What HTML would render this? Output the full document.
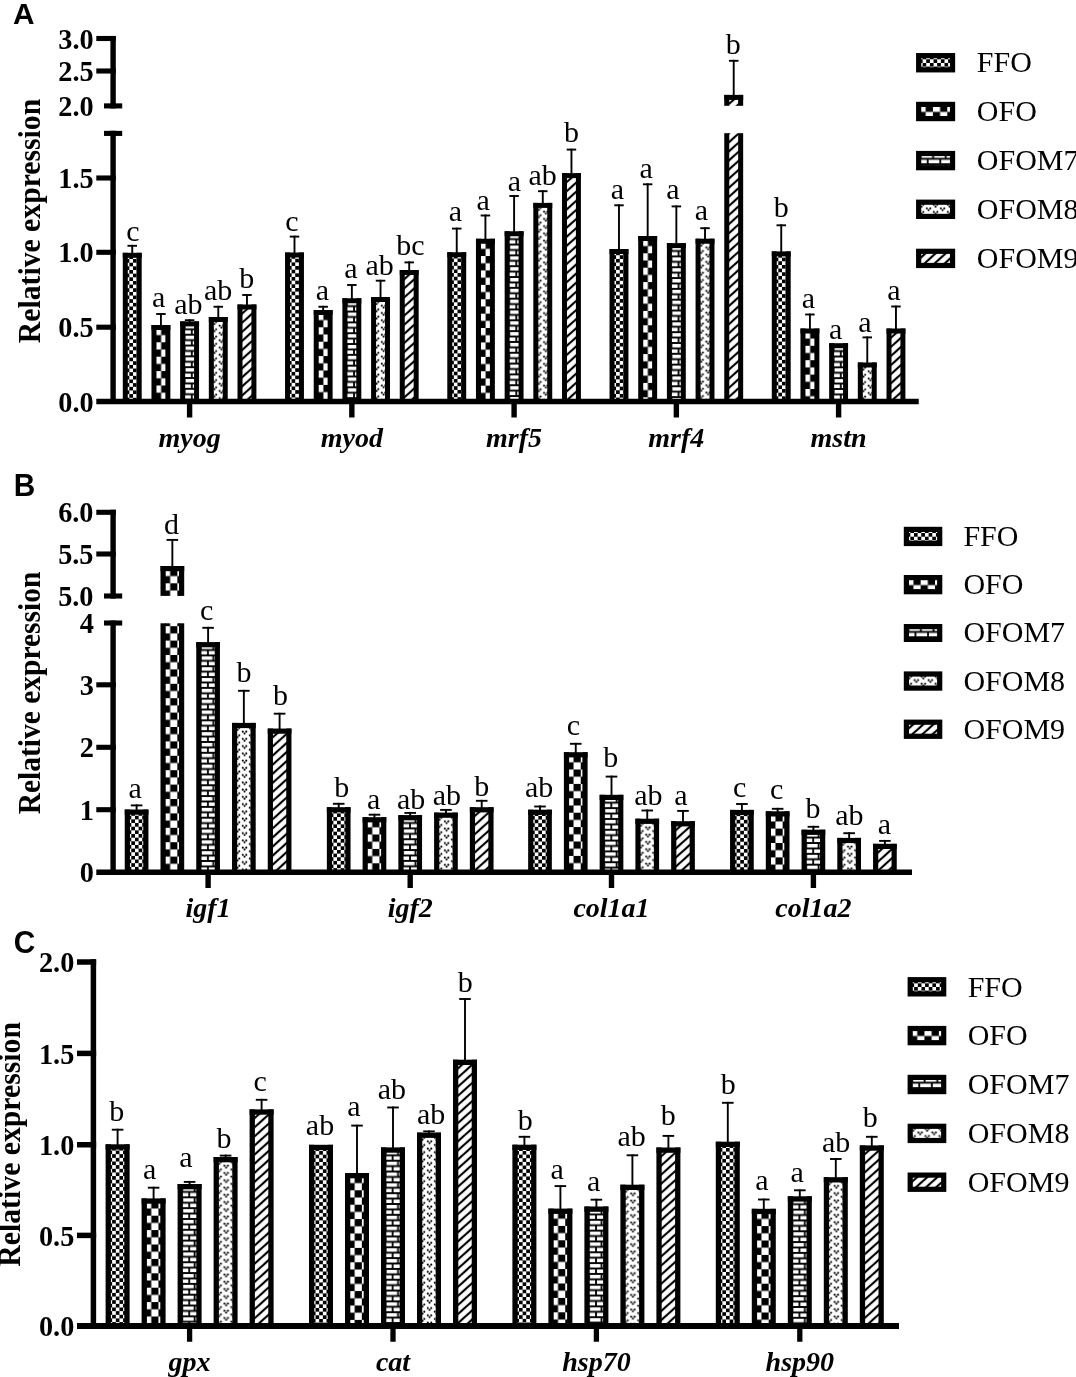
<!DOCTYPE html>
<html lang="en"><head><meta charset="utf-8"><title>Relative expression</title>
<style>html,body{margin:0;padding:0;background:#fff}svg{display:block;will-change:transform}</style></head><body>
<svg width="1076" height="1377" viewBox="0 0 1076 1377">
<rect width="1076" height="1377" fill="#fff"/>
<defs>
<pattern id="pFFO" patternUnits="userSpaceOnUse" x="2.9" y="2.6" width="7.3" height="7.3"><rect width="7.3" height="7.3" fill="#000"/><rect x="0" y="0" width="3.65" height="3.65" fill="#fff"/><rect x="3.65" y="3.65" width="3.65" height="3.65" fill="#fff"/></pattern>
<pattern id="pOFO" patternUnits="userSpaceOnUse" x="2.45" y="2.9" width="14.4" height="14.4"><rect width="14.4" height="14.4" fill="#000"/><rect x="0" y="0" width="7.2" height="7.2" fill="#fff"/><rect x="7.2" y="7.2" width="7.2" height="7.2" fill="#fff"/></pattern>
<pattern id="pM7" patternUnits="userSpaceOnUse" x="0" y="2.5" width="12.6" height="10.82"><rect width="12.6" height="10.82" fill="#fff"/><rect x="0" y="-0.95" width="12.6" height="1.9"/><rect x="0" y="9.87" width="12.6" height="1.9"/><rect x="0" y="4.46" width="12.6" height="1.9"/><rect x="-9.05" y="0" width="1.8" height="5.41"/><rect x="3.55" y="0" width="1.8" height="5.41"/><rect x="16.15" y="0" width="1.8" height="5.41"/><rect x="-1.85" y="5.41" width="1.8" height="5.41"/><rect x="10.75" y="5.41" width="1.8" height="5.41"/><rect x="23.35" y="5.41" width="1.8" height="5.41"/></pattern>
<pattern id="pM8" patternUnits="userSpaceOnUse" x="0" y="0" width="14" height="7.25"><rect width="14" height="7.25" fill="#fff"/><circle cx="10.8" cy="1.48" r="1.05" fill="#000"/><circle cx="10.8" cy="8.73" r="1.05" fill="#000"/><circle cx="0.28" cy="1.48" r="1.05" fill="#000"/><circle cx="0.28" cy="8.73" r="1.05" fill="#000"/><circle cx="14.28" cy="1.48" r="1.05" fill="#000"/><circle cx="14.28" cy="8.73" r="1.05" fill="#000"/><circle cx="-1.46" cy="3.35" r="1.05" fill="#000"/><circle cx="12.54" cy="3.35" r="1.05" fill="#000"/><circle cx="3.8" cy="5.1" r="1.05" fill="#000"/><circle cx="7.28" cy="5.1" r="1.05" fill="#000"/><circle cx="5.54" cy="-0.28" r="1.05" fill="#000"/><circle cx="5.54" cy="6.97" r="1.05" fill="#000"/></pattern>
<pattern id="pM9" patternUnits="userSpaceOnUse" width="60" height="6.76" patternTransform="translate(2.6 1.8) rotate(-42)"><rect width="60" height="6.76" fill="#fff"/><rect x="0" y="-1.07" width="60" height="2.15" fill="#000"/><rect x="0" y="5.69" width="60" height="2.15" fill="#000"/></pattern>
</defs>
<g>
<line x1="132.24" y1="244.85" x2="132.24" y2="253.8" stroke="#000" stroke-width="1.9"/>
<line x1="127.49" y1="245.8" x2="136.99" y2="245.8" stroke="#000" stroke-width="1.9"/>
<g transform="translate(122.79 252.8)">
<rect x="4.3" y="4.3" width="10.3" height="144.4" fill="url(#pFFO)"/>
<rect x="0" y="0" width="5" height="148.7"/>
<rect x="13.9" y="0" width="5" height="148.7"/>
<rect x="0" y="0" width="18.9" height="5"/>
</g>
<text x="132.8" y="241" font-family='"Liberation Serif", "DejaVu Serif", serif' font-size="30" font-weight="normal" font-style="normal" text-anchor="middle" fill="#000">c</text>
<line x1="160.92" y1="313.05" x2="160.92" y2="326" stroke="#000" stroke-width="1.9"/>
<line x1="156.17" y1="314" x2="165.67" y2="314" stroke="#000" stroke-width="1.9"/>
<g transform="translate(151.47 325)">
<rect x="4.3" y="4.3" width="10.3" height="72.2" fill="url(#pOFO)"/>
<rect x="0" y="0" width="5" height="76.5"/>
<rect x="13.9" y="0" width="5" height="76.5"/>
<rect x="0" y="0" width="18.9" height="5"/>
</g>
<text x="158.6" y="307.2" font-family='"Liberation Serif", "DejaVu Serif", serif' font-size="30" font-weight="normal" font-style="normal" text-anchor="middle" fill="#000">a</text>
<line x1="189.6" y1="319.25" x2="189.6" y2="322.4" stroke="#000" stroke-width="1.9"/>
<line x1="184.85" y1="320.2" x2="194.35" y2="320.2" stroke="#000" stroke-width="1.9"/>
<g transform="translate(180.15 321.4)">
<rect x="4.3" y="4.3" width="10.3" height="75.8" fill="url(#pM7)"/>
<rect x="0" y="0" width="5" height="80.1"/>
<rect x="13.9" y="0" width="5" height="80.1"/>
<rect x="0" y="0" width="18.9" height="5"/>
</g>
<text x="188.42" y="313.8" font-family='"Liberation Serif", "DejaVu Serif", serif' font-size="30" font-weight="normal" font-style="normal" text-anchor="middle" fill="#000">ab</text>
<line x1="218.28" y1="305.8" x2="218.28" y2="318" stroke="#000" stroke-width="1.9"/>
<line x1="213.53" y1="306.75" x2="223.03" y2="306.75" stroke="#000" stroke-width="1.9"/>
<g transform="translate(208.83 317)">
<rect x="4.3" y="4.3" width="10.3" height="80.2" fill="url(#pM8)"/>
<rect x="0" y="0" width="5" height="84.5"/>
<rect x="13.9" y="0" width="5" height="84.5"/>
<rect x="0" y="0" width="18.9" height="5"/>
</g>
<text x="218.12" y="300.3" font-family='"Liberation Serif", "DejaVu Serif", serif' font-size="30" font-weight="normal" font-style="normal" text-anchor="middle" fill="#000">ab</text>
<line x1="246.96" y1="294.05" x2="246.96" y2="305.5" stroke="#000" stroke-width="1.9"/>
<line x1="242.21" y1="295" x2="251.71" y2="295" stroke="#000" stroke-width="1.9"/>
<g transform="translate(237.51 304.5)">
<rect x="4.3" y="4.3" width="10.3" height="92.7" fill="url(#pM9)"/>
<rect x="0" y="0" width="5" height="97"/>
<rect x="13.9" y="0" width="5" height="97"/>
<rect x="0" y="0" width="18.9" height="5"/>
</g>
<text x="246.63" y="287.7" font-family='"Liberation Serif", "DejaVu Serif", serif' font-size="30" font-weight="normal" font-style="normal" text-anchor="middle" fill="#000">b</text>
<line x1="294.49" y1="235.65" x2="294.49" y2="253.5" stroke="#000" stroke-width="1.9"/>
<line x1="289.74" y1="236.6" x2="299.24" y2="236.6" stroke="#000" stroke-width="1.9"/>
<g transform="translate(285.04 252.5)">
<rect x="4.3" y="4.3" width="10.3" height="144.7" fill="url(#pFFO)"/>
<rect x="0" y="0" width="5" height="149"/>
<rect x="13.9" y="0" width="5" height="149"/>
<rect x="0" y="0" width="18.9" height="5"/>
</g>
<text x="292" y="230.9" font-family='"Liberation Serif", "DejaVu Serif", serif' font-size="30" font-weight="normal" font-style="normal" text-anchor="middle" fill="#000">c</text>
<line x1="323.17" y1="305.8" x2="323.17" y2="311" stroke="#000" stroke-width="1.9"/>
<line x1="318.42" y1="306.75" x2="327.92" y2="306.75" stroke="#000" stroke-width="1.9"/>
<g transform="translate(313.72 310)">
<rect x="4.3" y="4.3" width="10.3" height="87.2" fill="url(#pOFO)"/>
<rect x="0" y="0" width="5" height="91.5"/>
<rect x="13.9" y="0" width="5" height="91.5"/>
<rect x="0" y="0" width="18.9" height="5"/>
</g>
<text x="322.46" y="299.9" font-family='"Liberation Serif", "DejaVu Serif", serif' font-size="30" font-weight="normal" font-style="normal" text-anchor="middle" fill="#000">a</text>
<line x1="351.85" y1="284.05" x2="351.85" y2="299.25" stroke="#000" stroke-width="1.9"/>
<line x1="347.1" y1="285" x2="356.6" y2="285" stroke="#000" stroke-width="1.9"/>
<g transform="translate(342.4 298.25)">
<rect x="4.3" y="4.3" width="10.3" height="98.95" fill="url(#pM7)"/>
<rect x="0" y="0" width="5" height="103.25"/>
<rect x="13.9" y="0" width="5" height="103.25"/>
<rect x="0" y="0" width="18.9" height="5"/>
</g>
<text x="350.8" y="277.6" font-family='"Liberation Serif", "DejaVu Serif", serif' font-size="30" font-weight="normal" font-style="normal" text-anchor="middle" fill="#000">a</text>
<line x1="380.53" y1="279.75" x2="380.53" y2="298" stroke="#000" stroke-width="1.9"/>
<line x1="375.78" y1="280.7" x2="385.28" y2="280.7" stroke="#000" stroke-width="1.9"/>
<g transform="translate(371.08 297)">
<rect x="4.3" y="4.3" width="10.3" height="100.2" fill="url(#pM8)"/>
<rect x="0" y="0" width="5" height="104.5"/>
<rect x="13.9" y="0" width="5" height="104.5"/>
<rect x="0" y="0" width="18.9" height="5"/>
</g>
<text x="379.72" y="274.8" font-family='"Liberation Serif", "DejaVu Serif", serif' font-size="30" font-weight="normal" font-style="normal" text-anchor="middle" fill="#000">ab</text>
<line x1="409.21" y1="261.45" x2="409.21" y2="271" stroke="#000" stroke-width="1.9"/>
<line x1="404.46" y1="262.4" x2="413.96" y2="262.4" stroke="#000" stroke-width="1.9"/>
<g transform="translate(399.76 270)">
<rect x="4.3" y="4.3" width="10.3" height="127.2" fill="url(#pM9)"/>
<rect x="0" y="0" width="5" height="131.5"/>
<rect x="13.9" y="0" width="5" height="131.5"/>
<rect x="0" y="0" width="18.9" height="5"/>
</g>
<text x="410.33" y="255.3" font-family='"Liberation Serif", "DejaVu Serif", serif' font-size="30" font-weight="normal" font-style="normal" text-anchor="middle" fill="#000">bc</text>
<line x1="456.74" y1="227.65" x2="456.74" y2="253.25" stroke="#000" stroke-width="1.9"/>
<line x1="451.99" y1="228.6" x2="461.49" y2="228.6" stroke="#000" stroke-width="1.9"/>
<g transform="translate(447.29 252.25)">
<rect x="4.3" y="4.3" width="10.3" height="144.95" fill="url(#pFFO)"/>
<rect x="0" y="0" width="5" height="149.25"/>
<rect x="13.9" y="0" width="5" height="149.25"/>
<rect x="0" y="0" width="18.9" height="5"/>
</g>
<text x="455.4" y="221" font-family='"Liberation Serif", "DejaVu Serif", serif' font-size="30" font-weight="normal" font-style="normal" text-anchor="middle" fill="#000">a</text>
<line x1="485.42" y1="214.55" x2="485.42" y2="239.75" stroke="#000" stroke-width="1.9"/>
<line x1="480.67" y1="215.5" x2="490.17" y2="215.5" stroke="#000" stroke-width="1.9"/>
<g transform="translate(475.97 238.75)">
<rect x="4.3" y="4.3" width="10.3" height="158.45" fill="url(#pOFO)"/>
<rect x="0" y="0" width="5" height="162.75"/>
<rect x="13.9" y="0" width="5" height="162.75"/>
<rect x="0" y="0" width="18.9" height="5"/>
</g>
<text x="483.1" y="210.4" font-family='"Liberation Serif", "DejaVu Serif", serif' font-size="30" font-weight="normal" font-style="normal" text-anchor="middle" fill="#000">a</text>
<line x1="514.1" y1="195.05" x2="514.1" y2="232.25" stroke="#000" stroke-width="1.9"/>
<line x1="509.35" y1="196" x2="518.85" y2="196" stroke="#000" stroke-width="1.9"/>
<g transform="translate(504.65 231.25)">
<rect x="4.3" y="4.3" width="10.3" height="165.95" fill="url(#pM7)"/>
<rect x="0" y="0" width="5" height="170.25"/>
<rect x="13.9" y="0" width="5" height="170.25"/>
<rect x="0" y="0" width="18.9" height="5"/>
</g>
<text x="514.4" y="191" font-family='"Liberation Serif", "DejaVu Serif", serif' font-size="30" font-weight="normal" font-style="normal" text-anchor="middle" fill="#000">a</text>
<line x1="542.78" y1="190.25" x2="542.78" y2="203.9" stroke="#000" stroke-width="1.9"/>
<line x1="538.03" y1="191.2" x2="547.53" y2="191.2" stroke="#000" stroke-width="1.9"/>
<g transform="translate(533.33 202.9)">
<rect x="4.3" y="4.3" width="10.3" height="194.3" fill="url(#pM8)"/>
<rect x="0" y="0" width="5" height="198.6"/>
<rect x="13.9" y="0" width="5" height="198.6"/>
<rect x="0" y="0" width="18.9" height="5"/>
</g>
<text x="542.72" y="185" font-family='"Liberation Serif", "DejaVu Serif", serif' font-size="30" font-weight="normal" font-style="normal" text-anchor="middle" fill="#000">ab</text>
<line x1="571.46" y1="148.65" x2="571.46" y2="174.1" stroke="#000" stroke-width="1.9"/>
<line x1="566.71" y1="149.6" x2="576.21" y2="149.6" stroke="#000" stroke-width="1.9"/>
<g transform="translate(562.01 173.1)">
<rect x="4.3" y="4.3" width="10.3" height="224.1" fill="url(#pM9)"/>
<rect x="0" y="0" width="5" height="228.4"/>
<rect x="13.9" y="0" width="5" height="228.4"/>
<rect x="0" y="0" width="18.9" height="5"/>
</g>
<text x="571.53" y="141.8" font-family='"Liberation Serif", "DejaVu Serif", serif' font-size="30" font-weight="normal" font-style="normal" text-anchor="middle" fill="#000">b</text>
<line x1="618.99" y1="204.35" x2="618.99" y2="250" stroke="#000" stroke-width="1.9"/>
<line x1="614.24" y1="205.3" x2="623.74" y2="205.3" stroke="#000" stroke-width="1.9"/>
<g transform="translate(609.54 249)">
<rect x="4.3" y="4.3" width="10.3" height="148.2" fill="url(#pFFO)"/>
<rect x="0" y="0" width="5" height="152.5"/>
<rect x="13.9" y="0" width="5" height="152.5"/>
<rect x="0" y="0" width="18.9" height="5"/>
</g>
<text x="617.3" y="198.75" font-family='"Liberation Serif", "DejaVu Serif", serif' font-size="30" font-weight="normal" font-style="normal" text-anchor="middle" fill="#000">a</text>
<line x1="647.67" y1="183.35" x2="647.67" y2="237" stroke="#000" stroke-width="1.9"/>
<line x1="642.92" y1="184.3" x2="652.42" y2="184.3" stroke="#000" stroke-width="1.9"/>
<g transform="translate(638.22 236)">
<rect x="4.3" y="4.3" width="10.3" height="161.2" fill="url(#pOFO)"/>
<rect x="0" y="0" width="5" height="165.5"/>
<rect x="13.9" y="0" width="5" height="165.5"/>
<rect x="0" y="0" width="18.9" height="5"/>
</g>
<text x="646.2" y="177.8" font-family='"Liberation Serif", "DejaVu Serif", serif' font-size="30" font-weight="normal" font-style="normal" text-anchor="middle" fill="#000">a</text>
<line x1="676.35" y1="205.45" x2="676.35" y2="244.1" stroke="#000" stroke-width="1.9"/>
<line x1="671.6" y1="206.4" x2="681.1" y2="206.4" stroke="#000" stroke-width="1.9"/>
<g transform="translate(666.9 243.1)">
<rect x="4.3" y="4.3" width="10.3" height="154.1" fill="url(#pM7)"/>
<rect x="0" y="0" width="5" height="158.4"/>
<rect x="13.9" y="0" width="5" height="158.4"/>
<rect x="0" y="0" width="18.9" height="5"/>
</g>
<text x="672.8" y="199.4" font-family='"Liberation Serif", "DejaVu Serif", serif' font-size="30" font-weight="normal" font-style="normal" text-anchor="middle" fill="#000">a</text>
<line x1="705.03" y1="227.25" x2="705.03" y2="239.7" stroke="#000" stroke-width="1.9"/>
<line x1="700.28" y1="228.2" x2="709.78" y2="228.2" stroke="#000" stroke-width="1.9"/>
<g transform="translate(695.58 238.7)">
<rect x="4.3" y="4.3" width="10.3" height="158.5" fill="url(#pM8)"/>
<rect x="0" y="0" width="5" height="162.8"/>
<rect x="13.9" y="0" width="5" height="162.8"/>
<rect x="0" y="0" width="18.9" height="5"/>
</g>
<text x="701.4" y="220.4" font-family='"Liberation Serif", "DejaVu Serif", serif' font-size="30" font-weight="normal" font-style="normal" text-anchor="middle" fill="#000">a</text>
<line x1="733.71" y1="59.85" x2="733.71" y2="95.9" stroke="#000" stroke-width="1.9"/>
<line x1="728.96" y1="60.8" x2="738.46" y2="60.8" stroke="#000" stroke-width="1.9"/>
<g transform="translate(724.26 133.2)">
<rect x="4.3" y="0" width="10.3" height="268.3" fill="url(#pM9)"/>
<rect x="0" y="0" width="5" height="268.3"/>
<rect x="13.9" y="0" width="5" height="268.3"/>
</g>
<g transform="translate(724.26 94.9)">
<rect x="4.3" y="4.3" width="10.3" height="6.6" fill="url(#pM9)"/>
<rect x="0" y="0" width="5" height="10.9"/>
<rect x="13.9" y="0" width="5" height="10.9"/>
<rect x="0" y="0" width="18.9" height="5"/>
</g>
<text x="733.33" y="53.8" font-family='"Liberation Serif", "DejaVu Serif", serif' font-size="30" font-weight="normal" font-style="normal" text-anchor="middle" fill="#000">b</text>
<line x1="781.24" y1="224.35" x2="781.24" y2="252.4" stroke="#000" stroke-width="1.9"/>
<line x1="776.49" y1="225.3" x2="785.99" y2="225.3" stroke="#000" stroke-width="1.9"/>
<g transform="translate(771.79 251.4)">
<rect x="4.3" y="4.3" width="10.3" height="145.8" fill="url(#pFFO)"/>
<rect x="0" y="0" width="5" height="150.1"/>
<rect x="13.9" y="0" width="5" height="150.1"/>
<rect x="0" y="0" width="18.9" height="5"/>
</g>
<text x="781.23" y="217" font-family='"Liberation Serif", "DejaVu Serif", serif' font-size="30" font-weight="normal" font-style="normal" text-anchor="middle" fill="#000">b</text>
<line x1="809.92" y1="313.55" x2="809.92" y2="329.5" stroke="#000" stroke-width="1.9"/>
<line x1="805.17" y1="314.5" x2="814.67" y2="314.5" stroke="#000" stroke-width="1.9"/>
<g transform="translate(800.47 328.5)">
<rect x="4.3" y="4.3" width="10.3" height="68.7" fill="url(#pOFO)"/>
<rect x="0" y="0" width="5" height="73"/>
<rect x="13.9" y="0" width="5" height="73"/>
<rect x="0" y="0" width="18.9" height="5"/>
</g>
<text x="808.4" y="308" font-family='"Liberation Serif", "DejaVu Serif", serif' font-size="30" font-weight="normal" font-style="normal" text-anchor="middle" fill="#000">a</text>
<g transform="translate(829.15 343.2)">
<rect x="4.3" y="4.3" width="10.3" height="54" fill="url(#pM7)"/>
<rect x="0" y="0" width="5" height="58.3"/>
<rect x="13.9" y="0" width="5" height="58.3"/>
<rect x="0" y="0" width="18.9" height="5"/>
</g>
<text x="835.6" y="339.4" font-family='"Liberation Serif", "DejaVu Serif", serif' font-size="30" font-weight="normal" font-style="normal" text-anchor="middle" fill="#000">a</text>
<line x1="867.28" y1="336.45" x2="867.28" y2="363.5" stroke="#000" stroke-width="1.9"/>
<line x1="862.53" y1="337.4" x2="872.03" y2="337.4" stroke="#000" stroke-width="1.9"/>
<g transform="translate(857.83 362.5)">
<rect x="4.3" y="4.3" width="10.3" height="34.7" fill="url(#pM8)"/>
<rect x="0" y="0" width="5" height="39"/>
<rect x="13.9" y="0" width="5" height="39"/>
<rect x="0" y="0" width="18.9" height="5"/>
</g>
<text x="864.9" y="332.4" font-family='"Liberation Serif", "DejaVu Serif", serif' font-size="30" font-weight="normal" font-style="normal" text-anchor="middle" fill="#000">a</text>
<line x1="895.96" y1="305.55" x2="895.96" y2="329.5" stroke="#000" stroke-width="1.9"/>
<line x1="891.21" y1="306.5" x2="900.71" y2="306.5" stroke="#000" stroke-width="1.9"/>
<g transform="translate(886.51 328.5)">
<rect x="4.3" y="4.3" width="10.3" height="68.7" fill="url(#pM9)"/>
<rect x="0" y="0" width="5" height="73"/>
<rect x="13.9" y="0" width="5" height="73"/>
<rect x="0" y="0" width="18.9" height="5"/>
</g>
<text x="893.8" y="300.3" font-family='"Liberation Serif", "DejaVu Serif", serif' font-size="30" font-weight="normal" font-style="normal" text-anchor="middle" fill="#000">a</text>
<line x1="113.1" y1="35.95" x2="113.1" y2="108.45" stroke="#000" stroke-width="5.4"/>
<line x1="113.1" y1="130.85" x2="113.1" y2="401.5" stroke="#000" stroke-width="5.4"/>
<line x1="96.3" y1="38.5" x2="115.8" y2="38.5" stroke="#000" stroke-width="5.1"/>
<text transform="translate(93.7 48.6) scale(1 1.05)" font-family='"Liberation Serif", "DejaVu Serif", serif' font-size="28.3" font-weight="bold" font-style="normal" text-anchor="end" fill="#000">3.0</text>
<line x1="96.3" y1="71" x2="115.8" y2="71" stroke="#000" stroke-width="5.1"/>
<text transform="translate(93.7 81.1) scale(1 1.05)" font-family='"Liberation Serif", "DejaVu Serif", serif' font-size="28.3" font-weight="bold" font-style="normal" text-anchor="end" fill="#000">2.5</text>
<line x1="96.3" y1="178" x2="115.8" y2="178" stroke="#000" stroke-width="5.1"/>
<text transform="translate(93.7 188.1) scale(1 1.05)" font-family='"Liberation Serif", "DejaVu Serif", serif' font-size="28.3" font-weight="bold" font-style="normal" text-anchor="end" fill="#000">1.5</text>
<line x1="96.3" y1="252.3" x2="115.8" y2="252.3" stroke="#000" stroke-width="5.1"/>
<text transform="translate(93.7 262.4) scale(1 1.05)" font-family='"Liberation Serif", "DejaVu Serif", serif' font-size="28.3" font-weight="bold" font-style="normal" text-anchor="end" fill="#000">1.0</text>
<line x1="96.3" y1="327.2" x2="115.8" y2="327.2" stroke="#000" stroke-width="5.1"/>
<text transform="translate(93.7 337.3) scale(1 1.05)" font-family='"Liberation Serif", "DejaVu Serif", serif' font-size="28.3" font-weight="bold" font-style="normal" text-anchor="end" fill="#000">0.5</text>
<line x1="104" y1="105.9" x2="122.2" y2="105.9" stroke="#000" stroke-width="5.1"/>
<line x1="104" y1="133.4" x2="122.2" y2="133.4" stroke="#000" stroke-width="5.1"/>
<text transform="translate(93.7 116) scale(1 1.05)" font-family='"Liberation Serif", "DejaVu Serif", serif' font-size="28.3" font-weight="bold" font-style="normal" text-anchor="end" fill="#000">2.0</text>
<text transform="translate(93.7 411.5) scale(1 1.05)" font-family='"Liberation Serif", "DejaVu Serif", serif' font-size="28.3" font-weight="bold" font-style="normal" text-anchor="end" fill="#000">0.0</text>
<line x1="96.3" y1="401.5" x2="918.75" y2="401.5" stroke="#000" stroke-width="5.5"/>
<line x1="189.6" y1="401.5" x2="189.6" y2="417.5" stroke="#000" stroke-width="5.4"/>
<text x="189.6" y="446.6" font-family='"Liberation Serif", "DejaVu Serif", serif' font-size="28" font-weight="bold" font-style="italic" text-anchor="middle" fill="#000">myog</text>
<line x1="351.85" y1="401.5" x2="351.85" y2="417.5" stroke="#000" stroke-width="5.4"/>
<text x="351.85" y="446.6" font-family='"Liberation Serif", "DejaVu Serif", serif' font-size="28" font-weight="bold" font-style="italic" text-anchor="middle" fill="#000">myod</text>
<line x1="514.1" y1="401.5" x2="514.1" y2="417.5" stroke="#000" stroke-width="5.4"/>
<text x="514.1" y="446.6" font-family='"Liberation Serif", "DejaVu Serif", serif' font-size="28" font-weight="bold" font-style="italic" text-anchor="middle" fill="#000">mrf5</text>
<line x1="676.35" y1="401.5" x2="676.35" y2="417.5" stroke="#000" stroke-width="5.4"/>
<text x="676.35" y="446.6" font-family='"Liberation Serif", "DejaVu Serif", serif' font-size="28" font-weight="bold" font-style="italic" text-anchor="middle" fill="#000">mrf4</text>
<line x1="838.6" y1="401.5" x2="838.6" y2="417.5" stroke="#000" stroke-width="5.4"/>
<text x="838.6" y="446.6" font-family='"Liberation Serif", "DejaVu Serif", serif' font-size="28" font-weight="bold" font-style="italic" text-anchor="middle" fill="#000">mstn</text>
<text transform="translate(13 24.2) scale(1 1.02)" font-family='"Liberation Sans", "DejaVu Sans", sans-serif' font-size="29.8" font-weight="bold" font-style="normal" text-anchor="start" fill="#000">A</text>
<text transform="translate(40.3 221) rotate(-90) scale(1 1.04)" font-family='"Liberation Serif", "DejaVu Serif", serif' font-size="29.5" font-weight="bold" font-style="normal" text-anchor="middle" fill="#000" textLength="244.5" lengthAdjust="spacingAndGlyphs">Relative expression</text>
<g transform="translate(916.05 53.04)">
<rect x="4.5" y="4.5" width="30.1" height="10.4" fill="url(#pFFO)"/>
<rect x="2.6" y="2.6" width="33.9" height="14.2" fill="none" stroke="#000" stroke-width="5.2"/>
</g>
<text x="976.8" y="72.44" font-family='"Liberation Serif", "DejaVu Serif", serif' font-size="30" font-weight="normal" font-style="normal" text-anchor="start" fill="#000">FFO</text>
<g transform="translate(916.05 101.8)">
<rect x="4.5" y="4.5" width="30.1" height="10.4" fill="url(#pOFO)"/>
<rect x="2.6" y="2.6" width="33.9" height="14.2" fill="none" stroke="#000" stroke-width="5.2"/>
</g>
<text x="976.8" y="121.2" font-family='"Liberation Serif", "DejaVu Serif", serif' font-size="30" font-weight="normal" font-style="normal" text-anchor="start" fill="#000">OFO</text>
<g transform="translate(916.05 150.9)">
<rect x="4.5" y="4.5" width="30.1" height="10.4" fill="url(#pM7)"/>
<rect x="2.6" y="2.6" width="33.9" height="14.2" fill="none" stroke="#000" stroke-width="5.2"/>
</g>
<text x="976.8" y="170.3" font-family='"Liberation Serif", "DejaVu Serif", serif' font-size="30" font-weight="normal" font-style="normal" text-anchor="start" fill="#000">OFOM7</text>
<g transform="translate(916.05 199.6)">
<rect x="4.5" y="4.5" width="30.1" height="10.4" fill="url(#pM8)"/>
<rect x="2.6" y="2.6" width="33.9" height="14.2" fill="none" stroke="#000" stroke-width="5.2"/>
</g>
<text x="976.8" y="219" font-family='"Liberation Serif", "DejaVu Serif", serif' font-size="30" font-weight="normal" font-style="normal" text-anchor="start" fill="#000">OFOM8</text>
<g transform="translate(916.05 248.7)">
<rect x="4.5" y="4.5" width="30.1" height="10.4" fill="url(#pM9)"/>
<rect x="2.6" y="2.6" width="33.9" height="14.2" fill="none" stroke="#000" stroke-width="5.2"/>
</g>
<text x="976.8" y="268.1" font-family='"Liberation Serif", "DejaVu Serif", serif' font-size="30" font-weight="normal" font-style="normal" text-anchor="start" fill="#000">OFOM9</text>
</g>
<g>
<line x1="136.6" y1="804.45" x2="136.6" y2="810.5" stroke="#000" stroke-width="1.9"/>
<line x1="130.8" y1="805.4" x2="142.4" y2="805.4" stroke="#000" stroke-width="1.9"/>
<g transform="translate(124.75 809.5)">
<rect x="4.5" y="4.5" width="14.7" height="58.3" fill="url(#pFFO)"/>
<rect x="0" y="0" width="5.2" height="62.8"/>
<rect x="18.5" y="0" width="5.2" height="62.8"/>
<rect x="0" y="0" width="23.7" height="5.2"/>
</g>
<text x="135.1" y="798.4" font-family='"Liberation Serif", "DejaVu Serif", serif' font-size="30" font-weight="normal" font-style="normal" text-anchor="middle" fill="#000">a</text>
<line x1="172.35" y1="538.95" x2="172.35" y2="567" stroke="#000" stroke-width="1.9"/>
<line x1="166.55" y1="539.9" x2="178.15" y2="539.9" stroke="#000" stroke-width="1.9"/>
<g transform="translate(160.5 623.3)">
<rect x="4.5" y="0" width="14.7" height="249" fill="url(#pOFO)"/>
<rect x="0" y="0" width="5.2" height="249"/>
<rect x="18.5" y="0" width="5.2" height="249"/>
</g>
<g transform="translate(160.5 566)">
<rect x="4.5" y="4.5" width="14.7" height="25.4" fill="url(#pOFO)"/>
<rect x="0" y="0" width="5.2" height="29.9"/>
<rect x="18.5" y="0" width="5.2" height="29.9"/>
<rect x="0" y="0" width="23.7" height="5.2"/>
</g>
<text x="171.43" y="533.8" font-family='"Liberation Serif", "DejaVu Serif", serif' font-size="30" font-weight="normal" font-style="normal" text-anchor="middle" fill="#000">d</text>
<line x1="208.1" y1="626.85" x2="208.1" y2="643.1" stroke="#000" stroke-width="1.9"/>
<line x1="202.3" y1="627.8" x2="213.9" y2="627.8" stroke="#000" stroke-width="1.9"/>
<g transform="translate(196.25 642.1)">
<rect x="4.5" y="4.5" width="14.7" height="225.7" fill="url(#pM7)"/>
<rect x="0" y="0" width="5.2" height="230.2"/>
<rect x="18.5" y="0" width="5.2" height="230.2"/>
<rect x="0" y="0" width="23.7" height="5.2"/>
</g>
<text x="206.75" y="620.3" font-family='"Liberation Serif", "DejaVu Serif", serif' font-size="30" font-weight="normal" font-style="normal" text-anchor="middle" fill="#000">c</text>
<line x1="243.85" y1="689.85" x2="243.85" y2="723.9" stroke="#000" stroke-width="1.9"/>
<line x1="238.05" y1="690.8" x2="249.65" y2="690.8" stroke="#000" stroke-width="1.9"/>
<g transform="translate(232 722.9)">
<rect x="4.5" y="4.5" width="14.7" height="144.9" fill="url(#pM8)"/>
<rect x="0" y="0" width="5.2" height="149.4"/>
<rect x="18.5" y="0" width="5.2" height="149.4"/>
<rect x="0" y="0" width="23.7" height="5.2"/>
</g>
<text x="244.03" y="682.1" font-family='"Liberation Serif", "DejaVu Serif", serif' font-size="30" font-weight="normal" font-style="normal" text-anchor="middle" fill="#000">b</text>
<line x1="279.6" y1="712.75" x2="279.6" y2="729.55" stroke="#000" stroke-width="1.9"/>
<line x1="273.8" y1="713.7" x2="285.4" y2="713.7" stroke="#000" stroke-width="1.9"/>
<g transform="translate(267.75 728.55)">
<rect x="4.5" y="4.5" width="14.7" height="139.25" fill="url(#pM9)"/>
<rect x="0" y="0" width="5.2" height="143.75"/>
<rect x="18.5" y="0" width="5.2" height="143.75"/>
<rect x="0" y="0" width="23.7" height="5.2"/>
</g>
<text x="280.43" y="704.7" font-family='"Liberation Serif", "DejaVu Serif", serif' font-size="30" font-weight="normal" font-style="normal" text-anchor="middle" fill="#000">b</text>
<line x1="338.7" y1="802.85" x2="338.7" y2="808.2" stroke="#000" stroke-width="1.9"/>
<line x1="332.9" y1="803.8" x2="344.5" y2="803.8" stroke="#000" stroke-width="1.9"/>
<g transform="translate(326.85 807.2)">
<rect x="4.5" y="4.5" width="14.7" height="60.6" fill="url(#pFFO)"/>
<rect x="0" y="0" width="5.2" height="65.1"/>
<rect x="18.5" y="0" width="5.2" height="65.1"/>
<rect x="0" y="0" width="23.7" height="5.2"/>
</g>
<text x="341.63" y="796.6" font-family='"Liberation Serif", "DejaVu Serif", serif' font-size="30" font-weight="normal" font-style="normal" text-anchor="middle" fill="#000">b</text>
<line x1="374.45" y1="813.75" x2="374.45" y2="818.2" stroke="#000" stroke-width="1.9"/>
<line x1="368.65" y1="814.7" x2="380.25" y2="814.7" stroke="#000" stroke-width="1.9"/>
<g transform="translate(362.6 817.2)">
<rect x="4.5" y="4.5" width="14.7" height="50.6" fill="url(#pOFO)"/>
<rect x="0" y="0" width="5.2" height="55.1"/>
<rect x="18.5" y="0" width="5.2" height="55.1"/>
<rect x="0" y="0" width="23.7" height="5.2"/>
</g>
<text x="373.7" y="808.8" font-family='"Liberation Serif", "DejaVu Serif", serif' font-size="30" font-weight="normal" font-style="normal" text-anchor="middle" fill="#000">a</text>
<line x1="410.2" y1="811.95" x2="410.2" y2="816.1" stroke="#000" stroke-width="1.9"/>
<line x1="404.4" y1="812.9" x2="416" y2="812.9" stroke="#000" stroke-width="1.9"/>
<g transform="translate(398.35 815.1)">
<rect x="4.5" y="4.5" width="14.7" height="52.7" fill="url(#pM7)"/>
<rect x="0" y="0" width="5.2" height="57.2"/>
<rect x="18.5" y="0" width="5.2" height="57.2"/>
<rect x="0" y="0" width="23.7" height="5.2"/>
</g>
<text x="411.22" y="808.8" font-family='"Liberation Serif", "DejaVu Serif", serif' font-size="30" font-weight="normal" font-style="normal" text-anchor="middle" fill="#000">ab</text>
<line x1="445.95" y1="808.95" x2="445.95" y2="813.6" stroke="#000" stroke-width="1.9"/>
<line x1="440.15" y1="809.9" x2="451.75" y2="809.9" stroke="#000" stroke-width="1.9"/>
<g transform="translate(434.1 812.6)">
<rect x="4.5" y="4.5" width="14.7" height="55.2" fill="url(#pM8)"/>
<rect x="0" y="0" width="5.2" height="59.7"/>
<rect x="18.5" y="0" width="5.2" height="59.7"/>
<rect x="0" y="0" width="23.7" height="5.2"/>
</g>
<text x="446.92" y="805.2" font-family='"Liberation Serif", "DejaVu Serif", serif' font-size="30" font-weight="normal" font-style="normal" text-anchor="middle" fill="#000">ab</text>
<line x1="481.7" y1="799.85" x2="481.7" y2="808.2" stroke="#000" stroke-width="1.9"/>
<line x1="475.9" y1="800.8" x2="487.5" y2="800.8" stroke="#000" stroke-width="1.9"/>
<g transform="translate(469.85 807.2)">
<rect x="4.5" y="4.5" width="14.7" height="60.6" fill="url(#pM9)"/>
<rect x="0" y="0" width="5.2" height="65.1"/>
<rect x="18.5" y="0" width="5.2" height="65.1"/>
<rect x="0" y="0" width="23.7" height="5.2"/>
</g>
<text x="481.73" y="796.3" font-family='"Liberation Serif", "DejaVu Serif", serif' font-size="30" font-weight="normal" font-style="normal" text-anchor="middle" fill="#000">b</text>
<line x1="540" y1="805.55" x2="540" y2="810.7" stroke="#000" stroke-width="1.9"/>
<line x1="534.2" y1="806.5" x2="545.8" y2="806.5" stroke="#000" stroke-width="1.9"/>
<g transform="translate(528.15 809.7)">
<rect x="4.5" y="4.5" width="14.7" height="58.1" fill="url(#pFFO)"/>
<rect x="0" y="0" width="5.2" height="62.6"/>
<rect x="18.5" y="0" width="5.2" height="62.6"/>
<rect x="0" y="0" width="23.7" height="5.2"/>
</g>
<text x="539.12" y="796.5" font-family='"Liberation Serif", "DejaVu Serif", serif' font-size="30" font-weight="normal" font-style="normal" text-anchor="middle" fill="#000">ab</text>
<line x1="575.75" y1="742.85" x2="575.75" y2="753.2" stroke="#000" stroke-width="1.9"/>
<line x1="569.95" y1="743.8" x2="581.55" y2="743.8" stroke="#000" stroke-width="1.9"/>
<g transform="translate(563.9 752.2)">
<rect x="4.5" y="4.5" width="14.7" height="115.6" fill="url(#pOFO)"/>
<rect x="0" y="0" width="5.2" height="120.1"/>
<rect x="18.5" y="0" width="5.2" height="120.1"/>
<rect x="0" y="0" width="23.7" height="5.2"/>
</g>
<text x="573.4" y="735.4" font-family='"Liberation Serif", "DejaVu Serif", serif' font-size="30" font-weight="normal" font-style="normal" text-anchor="middle" fill="#000">c</text>
<line x1="611.5" y1="775.65" x2="611.5" y2="795.8" stroke="#000" stroke-width="1.9"/>
<line x1="605.7" y1="776.6" x2="617.3" y2="776.6" stroke="#000" stroke-width="1.9"/>
<g transform="translate(599.65 794.8)">
<rect x="4.5" y="4.5" width="14.7" height="73" fill="url(#pM7)"/>
<rect x="0" y="0" width="5.2" height="77.5"/>
<rect x="18.5" y="0" width="5.2" height="77.5"/>
<rect x="0" y="0" width="23.7" height="5.2"/>
</g>
<text x="610.63" y="767.2" font-family='"Liberation Serif", "DejaVu Serif", serif' font-size="30" font-weight="normal" font-style="normal" text-anchor="middle" fill="#000">b</text>
<line x1="647.25" y1="809.55" x2="647.25" y2="819.7" stroke="#000" stroke-width="1.9"/>
<line x1="641.45" y1="810.5" x2="653.05" y2="810.5" stroke="#000" stroke-width="1.9"/>
<g transform="translate(635.4 818.7)">
<rect x="4.5" y="4.5" width="14.7" height="49.1" fill="url(#pM8)"/>
<rect x="0" y="0" width="5.2" height="53.6"/>
<rect x="18.5" y="0" width="5.2" height="53.6"/>
<rect x="0" y="0" width="23.7" height="5.2"/>
</g>
<text x="648.32" y="804.9" font-family='"Liberation Serif", "DejaVu Serif", serif' font-size="30" font-weight="normal" font-style="normal" text-anchor="middle" fill="#000">ab</text>
<line x1="683" y1="809.95" x2="683" y2="822.2" stroke="#000" stroke-width="1.9"/>
<line x1="677.2" y1="810.9" x2="688.8" y2="810.9" stroke="#000" stroke-width="1.9"/>
<g transform="translate(671.15 821.2)">
<rect x="4.5" y="4.5" width="14.7" height="46.6" fill="url(#pM9)"/>
<rect x="0" y="0" width="5.2" height="51.1"/>
<rect x="18.5" y="0" width="5.2" height="51.1"/>
<rect x="0" y="0" width="23.7" height="5.2"/>
</g>
<text x="680.9" y="805.2" font-family='"Liberation Serif", "DejaVu Serif", serif' font-size="30" font-weight="normal" font-style="normal" text-anchor="middle" fill="#000">a</text>
<line x1="741.9" y1="803.05" x2="741.9" y2="810.9" stroke="#000" stroke-width="1.9"/>
<line x1="736.1" y1="804" x2="747.7" y2="804" stroke="#000" stroke-width="1.9"/>
<g transform="translate(730.05 809.9)">
<rect x="4.5" y="4.5" width="14.7" height="57.9" fill="url(#pFFO)"/>
<rect x="0" y="0" width="5.2" height="62.4"/>
<rect x="18.5" y="0" width="5.2" height="62.4"/>
<rect x="0" y="0" width="23.7" height="5.2"/>
</g>
<text x="739.6" y="796.8" font-family='"Liberation Serif", "DejaVu Serif", serif' font-size="30" font-weight="normal" font-style="normal" text-anchor="middle" fill="#000">c</text>
<line x1="777.65" y1="807.85" x2="777.65" y2="812.3" stroke="#000" stroke-width="1.9"/>
<line x1="771.85" y1="808.8" x2="783.45" y2="808.8" stroke="#000" stroke-width="1.9"/>
<g transform="translate(765.8 811.3)">
<rect x="4.5" y="4.5" width="14.7" height="56.5" fill="url(#pOFO)"/>
<rect x="0" y="0" width="5.2" height="61"/>
<rect x="18.5" y="0" width="5.2" height="61"/>
<rect x="0" y="0" width="23.7" height="5.2"/>
</g>
<text x="776.6" y="798.8" font-family='"Liberation Serif", "DejaVu Serif", serif' font-size="30" font-weight="normal" font-style="normal" text-anchor="middle" fill="#000">c</text>
<line x1="813.4" y1="825.85" x2="813.4" y2="830.7" stroke="#000" stroke-width="1.9"/>
<line x1="807.6" y1="826.8" x2="819.2" y2="826.8" stroke="#000" stroke-width="1.9"/>
<g transform="translate(801.55 829.7)">
<rect x="4.5" y="4.5" width="14.7" height="38.1" fill="url(#pM7)"/>
<rect x="0" y="0" width="5.2" height="42.6"/>
<rect x="18.5" y="0" width="5.2" height="42.6"/>
<rect x="0" y="0" width="23.7" height="5.2"/>
</g>
<text x="813.03" y="817.7" font-family='"Liberation Serif", "DejaVu Serif", serif' font-size="30" font-weight="normal" font-style="normal" text-anchor="middle" fill="#000">b</text>
<line x1="849.15" y1="832.25" x2="849.15" y2="838.9" stroke="#000" stroke-width="1.9"/>
<line x1="843.35" y1="833.2" x2="854.95" y2="833.2" stroke="#000" stroke-width="1.9"/>
<g transform="translate(837.3 837.9)">
<rect x="4.5" y="4.5" width="14.7" height="29.9" fill="url(#pM8)"/>
<rect x="0" y="0" width="5.2" height="34.4"/>
<rect x="18.5" y="0" width="5.2" height="34.4"/>
<rect x="0" y="0" width="23.7" height="5.2"/>
</g>
<text x="849.32" y="824.7" font-family='"Liberation Serif", "DejaVu Serif", serif' font-size="30" font-weight="normal" font-style="normal" text-anchor="middle" fill="#000">ab</text>
<line x1="884.9" y1="839.95" x2="884.9" y2="844.8" stroke="#000" stroke-width="1.9"/>
<line x1="879.1" y1="840.9" x2="890.7" y2="840.9" stroke="#000" stroke-width="1.9"/>
<g transform="translate(873.05 843.8)">
<rect x="4.5" y="4.5" width="14.7" height="24" fill="url(#pM9)"/>
<rect x="0" y="0" width="5.2" height="28.5"/>
<rect x="18.5" y="0" width="5.2" height="28.5"/>
<rect x="0" y="0" width="23.7" height="5.2"/>
</g>
<text x="884.3" y="833.6" font-family='"Liberation Serif", "DejaVu Serif", serif' font-size="30" font-weight="normal" font-style="normal" text-anchor="middle" fill="#000">a</text>
<line x1="113.1" y1="509.75" x2="113.1" y2="598.55" stroke="#000" stroke-width="5.4"/>
<line x1="113.1" y1="620.45" x2="113.1" y2="872.3" stroke="#000" stroke-width="5.4"/>
<line x1="96.3" y1="512.3" x2="115.8" y2="512.3" stroke="#000" stroke-width="5.1"/>
<text transform="translate(93.5 522.4) scale(1 1.05)" font-family='"Liberation Serif", "DejaVu Serif", serif' font-size="28.3" font-weight="bold" font-style="normal" text-anchor="end" fill="#000">6.0</text>
<line x1="96.3" y1="554" x2="115.8" y2="554" stroke="#000" stroke-width="5.1"/>
<text transform="translate(93.5 564.1) scale(1 1.05)" font-family='"Liberation Serif", "DejaVu Serif", serif' font-size="28.3" font-weight="bold" font-style="normal" text-anchor="end" fill="#000">5.5</text>
<line x1="96.3" y1="684.8" x2="115.8" y2="684.8" stroke="#000" stroke-width="5.1"/>
<text transform="translate(93.8 694.9) scale(1 1.05)" font-family='"Liberation Serif", "DejaVu Serif", serif' font-size="28.3" font-weight="bold" font-style="normal" text-anchor="end" fill="#000">3</text>
<line x1="96.3" y1="747.3" x2="115.8" y2="747.3" stroke="#000" stroke-width="5.1"/>
<text transform="translate(93.8 757.4) scale(1 1.05)" font-family='"Liberation Serif", "DejaVu Serif", serif' font-size="28.3" font-weight="bold" font-style="normal" text-anchor="end" fill="#000">2</text>
<line x1="96.3" y1="809.7" x2="115.8" y2="809.7" stroke="#000" stroke-width="5.1"/>
<text transform="translate(93.8 819.8) scale(1 1.05)" font-family='"Liberation Serif", "DejaVu Serif", serif' font-size="28.3" font-weight="bold" font-style="normal" text-anchor="end" fill="#000">1</text>
<line x1="104" y1="596" x2="122.2" y2="596" stroke="#000" stroke-width="5.1"/>
<line x1="104" y1="623" x2="122.2" y2="623" stroke="#000" stroke-width="5.1"/>
<text transform="translate(93.5 606.1) scale(1 1.05)" font-family='"Liberation Serif", "DejaVu Serif", serif' font-size="28.3" font-weight="bold" font-style="normal" text-anchor="end" fill="#000">5.0</text>
<text transform="translate(93.8 633.1) scale(1 1.05)" font-family='"Liberation Serif", "DejaVu Serif", serif' font-size="28.3" font-weight="bold" font-style="normal" text-anchor="end" fill="#000">4</text>
<text transform="translate(93.8 882.3) scale(1 1.05)" font-family='"Liberation Serif", "DejaVu Serif", serif' font-size="28.3" font-weight="bold" font-style="normal" text-anchor="end" fill="#000">0</text>
<line x1="96.3" y1="872.3" x2="912" y2="872.3" stroke="#000" stroke-width="5.5"/>
<line x1="208.1" y1="872.3" x2="208.1" y2="888" stroke="#000" stroke-width="5.4"/>
<text x="208.1" y="917" font-family='"Liberation Serif", "DejaVu Serif", serif' font-size="28" font-weight="bold" font-style="italic" text-anchor="middle" fill="#000">igf1</text>
<line x1="410.2" y1="872.3" x2="410.2" y2="888" stroke="#000" stroke-width="5.4"/>
<text x="410.2" y="917" font-family='"Liberation Serif", "DejaVu Serif", serif' font-size="28" font-weight="bold" font-style="italic" text-anchor="middle" fill="#000">igf2</text>
<line x1="611.5" y1="872.3" x2="611.5" y2="888" stroke="#000" stroke-width="5.4"/>
<text x="611.5" y="917" font-family='"Liberation Serif", "DejaVu Serif", serif' font-size="28" font-weight="bold" font-style="italic" text-anchor="middle" fill="#000">col1a1</text>
<line x1="813.4" y1="872.3" x2="813.4" y2="888" stroke="#000" stroke-width="5.4"/>
<text x="813.4" y="917" font-family='"Liberation Serif", "DejaVu Serif", serif' font-size="28" font-weight="bold" font-style="italic" text-anchor="middle" fill="#000">col1a2</text>
<text transform="translate(13.7 495.9) scale(1 1.05)" font-family='"Liberation Sans", "DejaVu Sans", sans-serif' font-size="29.8" font-weight="bold" font-style="normal" text-anchor="start" fill="#000">B</text>
<text transform="translate(40.4 693) rotate(-90) scale(1 1.04)" font-family='"Liberation Serif", "DejaVu Serif", serif' font-size="29.5" font-weight="bold" font-style="normal" text-anchor="middle" fill="#000" textLength="242.6" lengthAdjust="spacingAndGlyphs">Relative expression</text>
<g transform="translate(903.8 526.8)">
<rect x="4.5" y="4.5" width="29.5" height="10.3" fill="url(#pFFO)"/>
<rect x="2.6" y="2.6" width="33.3" height="14.1" fill="none" stroke="#000" stroke-width="5.2"/>
</g>
<text x="963.4" y="546.1" font-family='"Liberation Serif", "DejaVu Serif", serif' font-size="30" font-weight="normal" font-style="normal" text-anchor="start" fill="#000">FFO</text>
<g transform="translate(903.8 575)">
<rect x="4.5" y="4.5" width="29.5" height="10.3" fill="url(#pOFO)"/>
<rect x="2.6" y="2.6" width="33.3" height="14.1" fill="none" stroke="#000" stroke-width="5.2"/>
</g>
<text x="963.4" y="594.3" font-family='"Liberation Serif", "DejaVu Serif", serif' font-size="30" font-weight="normal" font-style="normal" text-anchor="start" fill="#000">OFO</text>
<g transform="translate(903.8 624)">
<rect x="4.5" y="4.5" width="29.5" height="9" fill="url(#pM7)"/>
<rect x="2.6" y="2.6" width="33.3" height="12.8" fill="none" stroke="#000" stroke-width="5.2"/>
</g>
<text x="963.4" y="642" font-family='"Liberation Serif", "DejaVu Serif", serif' font-size="30" font-weight="normal" font-style="normal" text-anchor="start" fill="#000">OFOM7</text>
<g transform="translate(903.8 671.4)">
<rect x="4.5" y="4.5" width="29.5" height="10.3" fill="url(#pM8)"/>
<rect x="2.6" y="2.6" width="33.3" height="14.1" fill="none" stroke="#000" stroke-width="5.2"/>
</g>
<text x="963.4" y="690.7" font-family='"Liberation Serif", "DejaVu Serif", serif' font-size="30" font-weight="normal" font-style="normal" text-anchor="start" fill="#000">OFOM8</text>
<g transform="translate(903.8 719.6)">
<rect x="4.5" y="4.5" width="29.5" height="10.3" fill="url(#pM9)"/>
<rect x="2.6" y="2.6" width="33.3" height="14.1" fill="none" stroke="#000" stroke-width="5.2"/>
</g>
<text x="963.4" y="738.9" font-family='"Liberation Serif", "DejaVu Serif", serif' font-size="30" font-weight="normal" font-style="normal" text-anchor="start" fill="#000">OFOM9</text>
</g>
<g>
<line x1="117.6" y1="1128.75" x2="117.6" y2="1145.3" stroke="#000" stroke-width="1.9"/>
<line x1="111.8" y1="1129.7" x2="123.4" y2="1129.7" stroke="#000" stroke-width="1.9"/>
<g transform="translate(105.6 1144.3)">
<rect x="4.6" y="4.6" width="14.8" height="177.1" fill="url(#pFFO)"/>
<rect x="0" y="0" width="5.3" height="181.7"/>
<rect x="18.7" y="0" width="5.3" height="181.7"/>
<rect x="0" y="0" width="24" height="5.3"/>
</g>
<text x="116.73" y="1121.4" font-family='"Liberation Serif", "DejaVu Serif", serif' font-size="30" font-weight="normal" font-style="normal" text-anchor="middle" fill="#000">b</text>
<line x1="153.6" y1="1186.75" x2="153.6" y2="1199.4" stroke="#000" stroke-width="1.9"/>
<line x1="147.8" y1="1187.7" x2="159.4" y2="1187.7" stroke="#000" stroke-width="1.9"/>
<g transform="translate(141.6 1198.4)">
<rect x="4.6" y="4.6" width="14.8" height="123" fill="url(#pOFO)"/>
<rect x="0" y="0" width="5.3" height="127.6"/>
<rect x="18.7" y="0" width="5.3" height="127.6"/>
<rect x="0" y="0" width="24" height="5.3"/>
</g>
<text x="149.7" y="1179.1" font-family='"Liberation Serif", "DejaVu Serif", serif' font-size="30" font-weight="normal" font-style="normal" text-anchor="middle" fill="#000">a</text>
<line x1="189.6" y1="1180.95" x2="189.6" y2="1185" stroke="#000" stroke-width="1.9"/>
<line x1="183.8" y1="1181.9" x2="195.4" y2="1181.9" stroke="#000" stroke-width="1.9"/>
<g transform="translate(177.6 1184)">
<rect x="4.6" y="4.6" width="14.8" height="137.4" fill="url(#pM7)"/>
<rect x="0" y="0" width="5.3" height="142"/>
<rect x="18.7" y="0" width="5.3" height="142"/>
<rect x="0" y="0" width="24" height="5.3"/>
</g>
<text x="185.8" y="1167" font-family='"Liberation Serif", "DejaVu Serif", serif' font-size="30" font-weight="normal" font-style="normal" text-anchor="middle" fill="#000">a</text>
<line x1="225.6" y1="1154.65" x2="225.6" y2="1158" stroke="#000" stroke-width="1.9"/>
<line x1="219.8" y1="1155.6" x2="231.4" y2="1155.6" stroke="#000" stroke-width="1.9"/>
<g transform="translate(213.6 1157)">
<rect x="4.6" y="4.6" width="14.8" height="164.4" fill="url(#pM8)"/>
<rect x="0" y="0" width="5.3" height="169"/>
<rect x="18.7" y="0" width="5.3" height="169"/>
<rect x="0" y="0" width="24" height="5.3"/>
</g>
<text x="224.03" y="1147.8" font-family='"Liberation Serif", "DejaVu Serif", serif' font-size="30" font-weight="normal" font-style="normal" text-anchor="middle" fill="#000">b</text>
<line x1="261.6" y1="1098.85" x2="261.6" y2="1110.4" stroke="#000" stroke-width="1.9"/>
<line x1="255.8" y1="1099.8" x2="267.4" y2="1099.8" stroke="#000" stroke-width="1.9"/>
<g transform="translate(249.6 1109.4)">
<rect x="4.6" y="4.6" width="14.8" height="212" fill="url(#pM9)"/>
<rect x="0" y="0" width="5.3" height="216.6"/>
<rect x="18.7" y="0" width="5.3" height="216.6"/>
<rect x="0" y="0" width="24" height="5.3"/>
</g>
<text x="260.2" y="1090.9" font-family='"Liberation Serif", "DejaVu Serif", serif' font-size="30" font-weight="normal" font-style="normal" text-anchor="middle" fill="#000">c</text>
<g transform="translate(309 1144.8)">
<rect x="4.6" y="4.6" width="14.8" height="176.6" fill="url(#pFFO)"/>
<rect x="0" y="0" width="5.3" height="181.2"/>
<rect x="18.7" y="0" width="5.3" height="181.2"/>
<rect x="0" y="0" width="24" height="5.3"/>
</g>
<text x="320.02" y="1135.1" font-family='"Liberation Serif", "DejaVu Serif", serif' font-size="30" font-weight="normal" font-style="normal" text-anchor="middle" fill="#000">ab</text>
<line x1="357" y1="1124.65" x2="357" y2="1174" stroke="#000" stroke-width="1.9"/>
<line x1="351.2" y1="1125.6" x2="362.8" y2="1125.6" stroke="#000" stroke-width="1.9"/>
<g transform="translate(345 1173)">
<rect x="4.6" y="4.6" width="14.8" height="148.4" fill="url(#pOFO)"/>
<rect x="0" y="0" width="5.3" height="153"/>
<rect x="18.7" y="0" width="5.3" height="153"/>
<rect x="0" y="0" width="24" height="5.3"/>
</g>
<text x="353.9" y="1115.9" font-family='"Liberation Serif", "DejaVu Serif", serif' font-size="30" font-weight="normal" font-style="normal" text-anchor="middle" fill="#000">a</text>
<line x1="393" y1="1106.55" x2="393" y2="1148.4" stroke="#000" stroke-width="1.9"/>
<line x1="387.2" y1="1107.5" x2="398.8" y2="1107.5" stroke="#000" stroke-width="1.9"/>
<g transform="translate(381 1147.4)">
<rect x="4.6" y="4.6" width="14.8" height="174" fill="url(#pM7)"/>
<rect x="0" y="0" width="5.3" height="178.6"/>
<rect x="18.7" y="0" width="5.3" height="178.6"/>
<rect x="0" y="0" width="24" height="5.3"/>
</g>
<text x="391.92" y="1098.7" font-family='"Liberation Serif", "DejaVu Serif", serif' font-size="30" font-weight="normal" font-style="normal" text-anchor="middle" fill="#000">ab</text>
<line x1="429" y1="1130.45" x2="429" y2="1133.6" stroke="#000" stroke-width="1.9"/>
<line x1="423.2" y1="1131.4" x2="434.8" y2="1131.4" stroke="#000" stroke-width="1.9"/>
<g transform="translate(417 1132.6)">
<rect x="4.6" y="4.6" width="14.8" height="188.8" fill="url(#pM8)"/>
<rect x="0" y="0" width="5.3" height="193.4"/>
<rect x="18.7" y="0" width="5.3" height="193.4"/>
<rect x="0" y="0" width="24" height="5.3"/>
</g>
<text x="431.22" y="1124.3" font-family='"Liberation Serif", "DejaVu Serif", serif' font-size="30" font-weight="normal" font-style="normal" text-anchor="middle" fill="#000">ab</text>
<line x1="465" y1="998.05" x2="465" y2="1060.7" stroke="#000" stroke-width="1.9"/>
<line x1="459.2" y1="999" x2="470.8" y2="999" stroke="#000" stroke-width="1.9"/>
<g transform="translate(453 1059.7)">
<rect x="4.6" y="4.6" width="14.8" height="261.7" fill="url(#pM9)"/>
<rect x="0" y="0" width="5.3" height="266.3"/>
<rect x="18.7" y="0" width="5.3" height="266.3"/>
<rect x="0" y="0" width="24" height="5.3"/>
</g>
<text x="465.23" y="992.1" font-family='"Liberation Serif", "DejaVu Serif", serif' font-size="30" font-weight="normal" font-style="normal" text-anchor="middle" fill="#000">b</text>
<line x1="524.4" y1="1135.85" x2="524.4" y2="1145.7" stroke="#000" stroke-width="1.9"/>
<line x1="518.6" y1="1136.8" x2="530.2" y2="1136.8" stroke="#000" stroke-width="1.9"/>
<g transform="translate(512.4 1144.7)">
<rect x="4.6" y="4.6" width="14.8" height="176.7" fill="url(#pFFO)"/>
<rect x="0" y="0" width="5.3" height="181.3"/>
<rect x="18.7" y="0" width="5.3" height="181.3"/>
<rect x="0" y="0" width="24" height="5.3"/>
</g>
<text x="525.23" y="1129.6" font-family='"Liberation Serif", "DejaVu Serif", serif' font-size="30" font-weight="normal" font-style="normal" text-anchor="middle" fill="#000">b</text>
<line x1="560.4" y1="1185.15" x2="560.4" y2="1209.6" stroke="#000" stroke-width="1.9"/>
<line x1="554.6" y1="1186.1" x2="566.2" y2="1186.1" stroke="#000" stroke-width="1.9"/>
<g transform="translate(548.4 1208.6)">
<rect x="4.6" y="4.6" width="14.8" height="112.8" fill="url(#pOFO)"/>
<rect x="0" y="0" width="5.3" height="117.4"/>
<rect x="18.7" y="0" width="5.3" height="117.4"/>
<rect x="0" y="0" width="24" height="5.3"/>
</g>
<text x="557.2" y="1178.6" font-family='"Liberation Serif", "DejaVu Serif", serif' font-size="30" font-weight="normal" font-style="normal" text-anchor="middle" fill="#000">a</text>
<line x1="596.4" y1="1198.75" x2="596.4" y2="1207.5" stroke="#000" stroke-width="1.9"/>
<line x1="590.6" y1="1199.7" x2="602.2" y2="1199.7" stroke="#000" stroke-width="1.9"/>
<g transform="translate(584.4 1206.5)">
<rect x="4.6" y="4.6" width="14.8" height="114.9" fill="url(#pM7)"/>
<rect x="0" y="0" width="5.3" height="119.5"/>
<rect x="18.7" y="0" width="5.3" height="119.5"/>
<rect x="0" y="0" width="24" height="5.3"/>
</g>
<text x="593.7" y="1190.7" font-family='"Liberation Serif", "DejaVu Serif", serif' font-size="30" font-weight="normal" font-style="normal" text-anchor="middle" fill="#000">a</text>
<line x1="632.4" y1="1154.35" x2="632.4" y2="1185.7" stroke="#000" stroke-width="1.9"/>
<line x1="626.6" y1="1155.3" x2="638.2" y2="1155.3" stroke="#000" stroke-width="1.9"/>
<g transform="translate(620.4 1184.7)">
<rect x="4.6" y="4.6" width="14.8" height="136.7" fill="url(#pM8)"/>
<rect x="0" y="0" width="5.3" height="141.3"/>
<rect x="18.7" y="0" width="5.3" height="141.3"/>
<rect x="0" y="0" width="24" height="5.3"/>
</g>
<text x="631.62" y="1146" font-family='"Liberation Serif", "DejaVu Serif", serif' font-size="30" font-weight="normal" font-style="normal" text-anchor="middle" fill="#000">ab</text>
<line x1="668.4" y1="1134.95" x2="668.4" y2="1148.5" stroke="#000" stroke-width="1.9"/>
<line x1="662.6" y1="1135.9" x2="674.2" y2="1135.9" stroke="#000" stroke-width="1.9"/>
<g transform="translate(656.4 1147.5)">
<rect x="4.6" y="4.6" width="14.8" height="173.9" fill="url(#pM9)"/>
<rect x="0" y="0" width="5.3" height="178.5"/>
<rect x="18.7" y="0" width="5.3" height="178.5"/>
<rect x="0" y="0" width="24" height="5.3"/>
</g>
<text x="668.23" y="1124.9" font-family='"Liberation Serif", "DejaVu Serif", serif' font-size="30" font-weight="normal" font-style="normal" text-anchor="middle" fill="#000">b</text>
<line x1="727.8" y1="1101.85" x2="727.8" y2="1142.7" stroke="#000" stroke-width="1.9"/>
<line x1="722" y1="1102.8" x2="733.6" y2="1102.8" stroke="#000" stroke-width="1.9"/>
<g transform="translate(715.8 1141.7)">
<rect x="4.6" y="4.6" width="14.8" height="179.7" fill="url(#pFFO)"/>
<rect x="0" y="0" width="5.3" height="184.3"/>
<rect x="18.7" y="0" width="5.3" height="184.3"/>
<rect x="0" y="0" width="24" height="5.3"/>
</g>
<text x="728.23" y="1094.3" font-family='"Liberation Serif", "DejaVu Serif", serif' font-size="30" font-weight="normal" font-style="normal" text-anchor="middle" fill="#000">b</text>
<line x1="763.8" y1="1198.55" x2="763.8" y2="1209.8" stroke="#000" stroke-width="1.9"/>
<line x1="758" y1="1199.5" x2="769.6" y2="1199.5" stroke="#000" stroke-width="1.9"/>
<g transform="translate(751.8 1208.8)">
<rect x="4.6" y="4.6" width="14.8" height="112.6" fill="url(#pOFO)"/>
<rect x="0" y="0" width="5.3" height="117.2"/>
<rect x="18.7" y="0" width="5.3" height="117.2"/>
<rect x="0" y="0" width="24" height="5.3"/>
</g>
<text x="761.9" y="1189.6" font-family='"Liberation Serif", "DejaVu Serif", serif' font-size="30" font-weight="normal" font-style="normal" text-anchor="middle" fill="#000">a</text>
<line x1="799.8" y1="1189.35" x2="799.8" y2="1197.3" stroke="#000" stroke-width="1.9"/>
<line x1="794" y1="1190.3" x2="805.6" y2="1190.3" stroke="#000" stroke-width="1.9"/>
<g transform="translate(787.8 1196.3)">
<rect x="4.6" y="4.6" width="14.8" height="125.1" fill="url(#pM7)"/>
<rect x="0" y="0" width="5.3" height="129.7"/>
<rect x="18.7" y="0" width="5.3" height="129.7"/>
<rect x="0" y="0" width="24" height="5.3"/>
</g>
<text x="797.2" y="1181.6" font-family='"Liberation Serif", "DejaVu Serif", serif' font-size="30" font-weight="normal" font-style="normal" text-anchor="middle" fill="#000">a</text>
<line x1="835.8" y1="1158.05" x2="835.8" y2="1178.2" stroke="#000" stroke-width="1.9"/>
<line x1="830" y1="1159" x2="841.6" y2="1159" stroke="#000" stroke-width="1.9"/>
<g transform="translate(823.8 1177.2)">
<rect x="4.6" y="4.6" width="14.8" height="144.2" fill="url(#pM8)"/>
<rect x="0" y="0" width="5.3" height="148.8"/>
<rect x="18.7" y="0" width="5.3" height="148.8"/>
<rect x="0" y="0" width="24" height="5.3"/>
</g>
<text x="836.12" y="1151.5" font-family='"Liberation Serif", "DejaVu Serif", serif' font-size="30" font-weight="normal" font-style="normal" text-anchor="middle" fill="#000">ab</text>
<line x1="871.8" y1="1135.85" x2="871.8" y2="1146.4" stroke="#000" stroke-width="1.9"/>
<line x1="866" y1="1136.8" x2="877.6" y2="1136.8" stroke="#000" stroke-width="1.9"/>
<g transform="translate(859.8 1145.4)">
<rect x="4.6" y="4.6" width="14.8" height="176" fill="url(#pM9)"/>
<rect x="0" y="0" width="5.3" height="180.6"/>
<rect x="18.7" y="0" width="5.3" height="180.6"/>
<rect x="0" y="0" width="24" height="5.3"/>
</g>
<text x="870.23" y="1126.7" font-family='"Liberation Serif", "DejaVu Serif", serif' font-size="30" font-weight="normal" font-style="normal" text-anchor="middle" fill="#000">b</text>
<line x1="93.4" y1="959.25" x2="93.4" y2="1326" stroke="#000" stroke-width="5.5"/>
<line x1="77" y1="962" x2="96.15" y2="962" stroke="#000" stroke-width="5.5"/>
<text transform="translate(74.3 972.1) scale(1 1.05)" font-family='"Liberation Serif", "DejaVu Serif", serif' font-size="28.3" font-weight="bold" font-style="normal" text-anchor="end" fill="#000">2.0</text>
<line x1="77" y1="1053.4" x2="96.15" y2="1053.4" stroke="#000" stroke-width="5.5"/>
<text transform="translate(74.3 1063.5) scale(1 1.05)" font-family='"Liberation Serif", "DejaVu Serif", serif' font-size="28.3" font-weight="bold" font-style="normal" text-anchor="end" fill="#000">1.5</text>
<line x1="77" y1="1144.75" x2="96.15" y2="1144.75" stroke="#000" stroke-width="5.5"/>
<text transform="translate(74.3 1154.85) scale(1 1.05)" font-family='"Liberation Serif", "DejaVu Serif", serif' font-size="28.3" font-weight="bold" font-style="normal" text-anchor="end" fill="#000">1.0</text>
<line x1="77" y1="1235.4" x2="96.15" y2="1235.4" stroke="#000" stroke-width="5.5"/>
<text transform="translate(74.3 1245.5) scale(1 1.05)" font-family='"Liberation Serif", "DejaVu Serif", serif' font-size="28.3" font-weight="bold" font-style="normal" text-anchor="end" fill="#000">0.5</text>
<text transform="translate(74.3 1336.1) scale(1 1.05)" font-family='"Liberation Serif", "DejaVu Serif", serif' font-size="28.3" font-weight="bold" font-style="normal" text-anchor="end" fill="#000">0.0</text>
<line x1="77" y1="1326" x2="899" y2="1326" stroke="#000" stroke-width="5.8"/>
<line x1="189.6" y1="1326" x2="189.6" y2="1341.75" stroke="#000" stroke-width="5.3"/>
<text x="189.6" y="1371" font-family='"Liberation Serif", "DejaVu Serif", serif' font-size="28" font-weight="bold" font-style="italic" text-anchor="middle" fill="#000">gpx</text>
<line x1="393" y1="1326" x2="393" y2="1341.75" stroke="#000" stroke-width="5.3"/>
<text x="393" y="1371" font-family='"Liberation Serif", "DejaVu Serif", serif' font-size="28" font-weight="bold" font-style="italic" text-anchor="middle" fill="#000">cat</text>
<line x1="596.4" y1="1326" x2="596.4" y2="1341.75" stroke="#000" stroke-width="5.3"/>
<text x="596.4" y="1371" font-family='"Liberation Serif", "DejaVu Serif", serif' font-size="28" font-weight="bold" font-style="italic" text-anchor="middle" fill="#000">hsp70</text>
<line x1="799.8" y1="1326" x2="799.8" y2="1341.75" stroke="#000" stroke-width="5.3"/>
<text x="799.8" y="1371" font-family='"Liberation Serif", "DejaVu Serif", serif' font-size="28" font-weight="bold" font-style="italic" text-anchor="middle" fill="#000">hsp90</text>
<text transform="translate(13.8 952.6) scale(1 1.08)" font-family='"Liberation Sans", "DejaVu Sans", sans-serif' font-size="29.8" font-weight="bold" font-style="normal" text-anchor="start" fill="#000">C</text>
<text transform="translate(20.4 1144.35) rotate(-90) scale(1 1.04)" font-family='"Liberation Serif", "DejaVu Serif", serif' font-size="29.5" font-weight="bold" font-style="normal" text-anchor="middle" fill="#000" textLength="244.7" lengthAdjust="spacingAndGlyphs">Relative expression</text>
<g transform="translate(907.6 977.1)">
<rect x="4.5" y="4.5" width="29.7" height="10.4" fill="url(#pFFO)"/>
<rect x="2.6" y="2.6" width="33.5" height="14.2" fill="none" stroke="#000" stroke-width="5.2"/>
</g>
<text x="967.7" y="996.5" font-family='"Liberation Serif", "DejaVu Serif", serif' font-size="30" font-weight="normal" font-style="normal" text-anchor="start" fill="#000">FFO</text>
<g transform="translate(907.6 1025.9)">
<rect x="4.5" y="4.5" width="29.7" height="10.4" fill="url(#pOFO)"/>
<rect x="2.6" y="2.6" width="33.5" height="14.2" fill="none" stroke="#000" stroke-width="5.2"/>
</g>
<text x="967.7" y="1045.3" font-family='"Liberation Serif", "DejaVu Serif", serif' font-size="30" font-weight="normal" font-style="normal" text-anchor="start" fill="#000">OFO</text>
<g transform="translate(907.6 1074.8)">
<rect x="4.5" y="4.5" width="29.7" height="10.4" fill="url(#pM7)"/>
<rect x="2.6" y="2.6" width="33.5" height="14.2" fill="none" stroke="#000" stroke-width="5.2"/>
</g>
<text x="967.7" y="1094.2" font-family='"Liberation Serif", "DejaVu Serif", serif' font-size="30" font-weight="normal" font-style="normal" text-anchor="start" fill="#000">OFOM7</text>
<g transform="translate(907.6 1123.7)">
<rect x="4.5" y="4.5" width="29.7" height="10.4" fill="url(#pM8)"/>
<rect x="2.6" y="2.6" width="33.5" height="14.2" fill="none" stroke="#000" stroke-width="5.2"/>
</g>
<text x="967.7" y="1143.1" font-family='"Liberation Serif", "DejaVu Serif", serif' font-size="30" font-weight="normal" font-style="normal" text-anchor="start" fill="#000">OFOM8</text>
<g transform="translate(907.6 1172.5)">
<rect x="4.5" y="4.5" width="29.7" height="10.4" fill="url(#pM9)"/>
<rect x="2.6" y="2.6" width="33.5" height="14.2" fill="none" stroke="#000" stroke-width="5.2"/>
</g>
<text x="967.7" y="1191.9" font-family='"Liberation Serif", "DejaVu Serif", serif' font-size="30" font-weight="normal" font-style="normal" text-anchor="start" fill="#000">OFOM9</text>
</g>
</svg></body></html>
